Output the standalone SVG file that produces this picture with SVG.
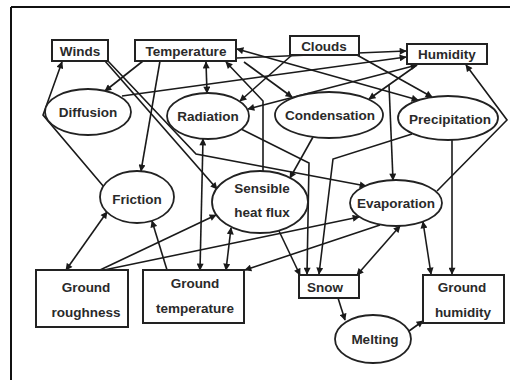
<svg xmlns="http://www.w3.org/2000/svg" width="510" height="380" viewBox="0 0 510 380">
<defs>
<marker id="ah" viewBox="0 0 10 10" refX="9" refY="5" markerWidth="8" markerHeight="7" markerUnits="userSpaceOnUse" orient="auto-start-reverse">
<path d="M0,0 L10,5 L0,10 Z" fill="#1a1a1a"/>
</marker>
</defs>
<style>
.bx{fill:#fff;stroke:#222;stroke-width:2}
.el{fill:#fff;stroke:#222;stroke-width:1.8}
.t{font-family:"Liberation Sans",Arial,sans-serif;font-size:13.5px;font-weight:bold;fill:#2a2a2a;text-anchor:middle}
.c{fill:none;stroke:#1a1a1a;stroke-width:1.6;marker-end:url(#ah)}
.d{marker-start:url(#ah)}
.n{marker-end:none}
</style>
<rect x="0" y="0" width="510" height="380" fill="#fff"/>
<g id="frame" stroke="#111" stroke-width="2">
<line x1="11" y1="7" x2="510" y2="7"/>
<line x1="11" y1="7" x2="11" y2="380"/>
</g>
<g id="connectors">
<path class="c" d="M104,187 L43,115 L62,62"/>
<path class="c" d="M105,61 L217,189"/>
<path class="c" d="M108,61 L196,154 L366,186"/>
<path class="c" d="M143,61 L105,91"/>
<path class="c" d="M160,61 L141,171"/>
<path class="c d" d="M206,62 L207,93"/>
<path class="c d" d="M237,49 L418,100"/>
<path class="c" d="M237,58 L406,51"/>
<path class="c" d="M122,96 L406,57"/>
<path class="c" d="M263,171 L263,101 L226,62"/>
<path class="c" d="M244,62 L292,97"/>
<path class="c" d="M292,55 L240,101"/>
<path class="c d" d="M417,65 L248,109"/>
<path class="c" d="M417,65 L369,99"/>
<path class="c" d="M389,85 L393,180"/>
<path class="c" d="M357,55 L432,97"/>
<path class="c" d="M437,191 L507,120 L466,65"/>
<path class="c" d="M452,140 L452,274"/>
<path class="c" d="M412,134 L333,159 L319,274"/>
<path class="c" d="M313,137 L290,178"/>
<path class="c" d="M241,129 L309,163 L307,274"/>
<path class="c d" d="M107,212 L66,270"/>
<path class="c" d="M167,270 L152,221"/>
<path class="c d" d="M203,139 L200,270"/>
<path class="c d" d="M231,228 L226,270"/>
<path class="c" d="M100,270 L216,215"/>
<path class="c" d="M104,270 L359,217"/>
<path class="c" d="M380,225 L245,270"/>
<path class="c" d="M279,231 L300,275"/>
<path class="c d" d="M400,226 L357,275"/>
<path class="c d" d="M423,222 L431,274"/>
<path class="c" d="M338,298 L345,320"/>
<path class="c" d="M409,331 L423,321"/>
</g>
<g id="winds"><rect class="bx" x="52" y="40" width="56" height="21"/><text class="t" x="80" y="56">Winds</text></g>
<g id="temperature"><rect class="bx" x="135" y="40" width="101" height="21"/><text class="t" x="186" y="56">Temperature</text></g>
<g id="clouds"><rect class="bx" x="290" y="36" width="69" height="19"/><text class="t" x="324" y="51">Clouds</text></g>
<g id="humidity"><rect class="bx" x="407" y="44" width="80" height="20"/><text class="t" x="447" y="59">Humidity</text></g>
<g id="diffusion"><ellipse class="el" cx="88" cy="112" rx="43" ry="23"/><text class="t" x="88" y="117">Diffusion</text></g>
<g id="radiation"><ellipse class="el" cx="208" cy="116" rx="41" ry="23"/><text class="t" x="208" y="121">Radiation</text></g>
<g id="condensation"><ellipse class="el" cx="329" cy="115" rx="54" ry="23"/><text class="t" x="330" y="120">Condensation</text></g>
<g id="precipitation"><ellipse class="el" cx="448" cy="118" rx="50" ry="22"/><text class="t" x="450" y="124">Precipitation</text></g>
<g id="friction"><ellipse class="el" cx="137" cy="197" rx="37" ry="26"/><text class="t" x="137" y="204">Friction</text></g>
<g id="sensible"><ellipse class="el" cx="260" cy="202" rx="48" ry="31"/><text class="t" x="262" y="193">Sensible</text><text class="t" x="262" y="217">heat flux</text></g>
<g id="evaporation"><ellipse class="el" cx="396" cy="203" rx="46" ry="23"/><text class="t" x="396" y="208">Evaporation</text></g>
<g id="ground-roughness"><rect class="bx" x="36" y="270" width="92" height="57"/><text class="t" x="86" y="292">Ground</text><text class="t" x="86" y="317">roughness</text></g>
<g id="ground-temperature"><rect class="bx" x="143" y="270" width="101" height="53"/><text class="t" x="195" y="288">Ground</text><text class="t" x="195" y="313">temperature</text></g>
<g id="snow"><rect class="bx" x="299" y="275" width="60" height="23"/><text class="t" x="325" y="292">Snow</text></g>
<g id="ground-humidity"><rect class="bx" x="423" y="275" width="81" height="48"/><text class="t" x="462" y="292">Ground</text><text class="t" x="463" y="317">humidity</text></g>
<g id="melting"><ellipse class="el" cx="373" cy="339" rx="38" ry="24"/><text class="t" x="375" y="344">Melting</text></g>
</svg>
